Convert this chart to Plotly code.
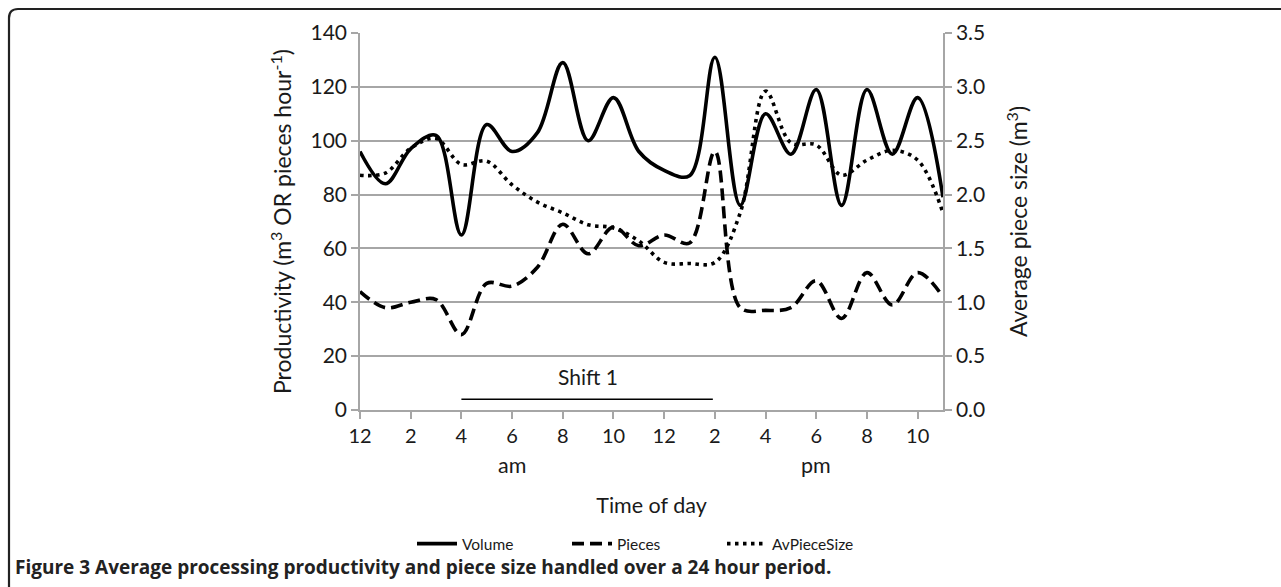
import plotly.graph_objects as go

# ---- data (hourly, 0 = 12 am) ----
hours = list(range(24))
volume = [96, 84, 97, 102, 65, 106, 96, 103, 129, 100, 116, 96,
          89, 87, 131, 76, 110, 95, 119, 76, 119, 95, 116, 79]
pieces = [44, 38, 40, 41, 28, 47, 46, 53, 69, 58, 68, 61,
          65, 62, 96, 38, 37, 38, 48, 34, 51, 39, 51, 42]
av_piece_size = [2.18, 2.20, 2.43, 2.52, 2.28, 2.31, 2.09, 1.93, 1.83, 1.72, 1.69, 1.57,
                 1.37, 1.36, 1.37, 1.83, 2.96, 2.48, 2.46, 2.18, 2.32, 2.41, 2.32, 1.83]
tick_vals = list(range(0, 24, 2))
tick_text = ["12", "2", "4", "6", "8", "10", "12", "2", "4", "6", "8", "10"]
shift_start, shift_end, shift_level = 4, 14, 4
shift_label = "Shift 1"

FONT = "Lato"
GRID = "#a6a6a6"
TXT = "#1a1a1a"

fig = go.Figure()
fig.add_trace(go.Scatter(x=hours, y=volume, name="Volume", mode="lines",
                         line=dict(color="black", width=3.6, shape="spline", smoothing=1.0)))
fig.add_trace(go.Scatter(x=hours, y=pieces, name="Pieces", mode="lines",
                         line=dict(color="black", width=3.6, shape="spline", smoothing=1.0,
                                   dash="12px,6px")))
fig.add_trace(go.Scatter(x=hours, y=av_piece_size, name="AvPieceSize", mode="lines", yaxis="y2",
                         line=dict(color="black", width=3.6, shape="spline", smoothing=1.0,
                                   dash="3.5px,4.5px")))
# shift bar
fig.add_trace(go.Scatter(x=[shift_start, shift_end - 0.08], y=[shift_level, shift_level], mode="lines",
                         showlegend=False, hoverinfo="skip",
                         line=dict(color="black", width=1.5)))

fig.update_layout(
    width=1281, height=587,
    margin=dict(l=360, r=338, t=33, b=177),
    paper_bgcolor="white", plot_bgcolor="white",
    font=dict(family=FONT, color=TXT, size=20),
    showlegend=True,
    legend=dict(orientation="h", x=(412 - 360) / 583, xanchor="left", y=(410 - 544) / 377,
                yanchor="middle",
                font=dict(size=15.5, color=TXT), itemwidth=40, entrywidth=100,
                bgcolor="rgba(0,0,0,0)"),
    xaxis=dict(range=[0, 23], tickmode="array", tickvals=tick_vals, ticktext=tick_text,
               showgrid=False, zeroline=False, showline=True, linecolor=GRID, linewidth=1.5,
               ticks="outside", ticklen=7, tickcolor=GRID, tickwidth=1.5,
               tickfont=dict(size=20, color=TXT),
               title=dict(text="Time of day", font=dict(size=21.5, color=TXT), standoff=52)),
    yaxis=dict(range=[0, 140], dtick=20, showgrid=True, gridcolor=GRID, gridwidth=1.5,
               zeroline=False, showline=True, linecolor=GRID, linewidth=1.5,
               ticks="outside", ticklen=7, tickcolor=GRID, tickwidth=1.5,
               tickfont=dict(size=21, color=TXT),
               title=dict(text="Productivity (m<sup>3</sup> OR pieces hour<sup>-1</sup>)",
                          font=dict(size=23, color=TXT), standoff=12)),
    yaxis2=dict(range=[0, 3.5], dtick=0.5, tickformat=".1f", overlaying="y", side="right",
                showgrid=False, zeroline=False, showline=True, linecolor=GRID, linewidth=1.5,
                ticks="outside", ticklen=7, tickcolor=GRID, tickwidth=1.5,
                tickfont=dict(size=21, color=TXT),
                title=dict(text="Average piece size (m<sup>3</sup>)",
                           font=dict(size=23, color=TXT), standoff=27)),
)

fig.add_annotation(x=9, y=12.3, xref="x", yref="y", text=shift_label, showarrow=False,
                   font=dict(size=21, color=TXT))
fig.add_annotation(x=6, y=-0.146, xref="x", yref="paper", text="am", showarrow=False,
                   yanchor="middle", font=dict(size=21.5, color=TXT))
fig.add_annotation(x=18, y=-0.146, xref="x", yref="paper", text="pm", showarrow=False,
                   yanchor="middle", font=dict(size=21.5, color=TXT))

# caption
fig.add_annotation(x=(13 - 360) / 583, y=(410 - 567) / 377, xref="paper", yref="paper",
                   xanchor="left", yanchor="middle", showarrow=False, align="left",
                   text="<b>Figure 3 Average processing productivity and piece size handled over a 24 hour period.</b>",
                   font=dict(family="Open Sans", size=19, color="#222"))

# frame with rounded top-left corner (pixel -> paper conversion)
def px(x):
    return (x - 360) / 583

def py(y):
    return (410 - y) / 377

r = 9
path = (f"M {px(9)} {py(590)} L {px(9)} {py(9 + r)} "
        f"Q {px(9)} {py(9)} {px(9 + r)} {py(9)} L {px(1285)} {py(9)}")
fig.add_shape(type="path", path=path, xref="paper", yref="paper",
              line=dict(color="#222", width=2.2))

fig.write_html("out.html", config={"displayModeBar": False},
               post_script="document.body.style.margin='0px';")
